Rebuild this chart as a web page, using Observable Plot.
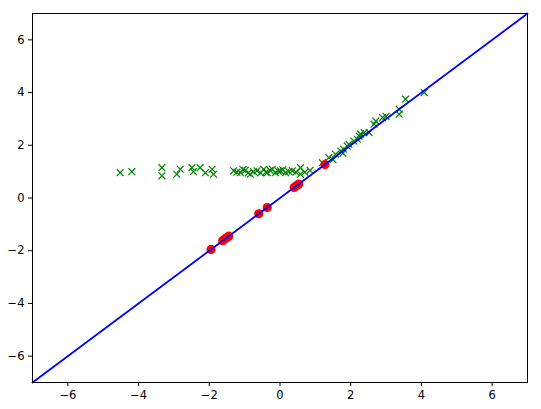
<!DOCTYPE html>
<html>
<head>
<meta charset="utf-8">
<script src="https://cdn.jsdelivr.net/npm/d3@7"></script>
<script src="https://cdn.jsdelivr.net/npm/@observablehq/plot@0.6"></script>
<style>
  html, body { margin: 0; padding: 0; background: #fff; }
  #chart svg { display: block; }
</style>
</head>
<body>
<div id="chart"></div>
<script>
// Green "x" samples
const greenX = [-4.52, -4.19, -3.34, -3.34, -2.92, -2.82, -2.49, -2.45, -2.26, -2.11, -1.92, -1.88,
  -1.31, -1.22, -1.12, -1.05, -0.98, -0.9, -0.84, -0.75, -0.65, -0.55, -0.46, -0.4, -0.36, -0.28, -0.22,
  -0.13, -0.05, 0.01, 0.08, 0.16, 0.25, 0.35, 0.45, 0.58, 0.58, 0.7, 0.85,
  1.2, 1.38, 1.5, 1.57, 1.72, 1.78, 1.8, 1.9, 1.95, 2.09, 2.19, 2.24, 2.28, 2.38, 2.52,
  2.66, 2.71, 2.9, 3.0, 3.37, 3.37, 3.55, 4.08];
const greenY = [0.96, 1.0, 1.15, 0.84, 0.9, 1.09, 1.15, 1.0, 1.15, 0.96, 1.09, 0.9,
  1.03, 0.98, 0.96, 1.08, 1.05, 0.95, 0.9, 1.0, 1.03, 0.95, 1.09, 0.98, 0.96, 1.05, 1.09,
  0.96, 1.02, 1.03, 1.07, 0.96, 1.0, 1.03, 0.98, 1.15, 0.9, 0.98, 1.05,
  1.34, 1.53, 1.45, 1.66, 1.78, 1.7, 1.85, 1.97, 2.04, 2.16, 2.23, 2.35, 2.43, 2.48, 2.48,
  2.8, 2.92, 3.05, 3.1, 3.37, 3.18, 3.75, 4.0];
// Red dots
const redX = [-1.95, -1.62, -1.55, -1.5, -1.45, -0.6, -0.36, 0.4, 0.47, 0.53, 1.27];
const redY = [-1.95, -1.62, -1.55, -1.5, -1.45, -0.6, -0.36, 0.4, 0.47, 0.53, 1.27];
// Identity line endpoints
const lineX = [-7, 7];
const lineY = [-7, 7];
const ticks = [-6, -4, -2, 0, 2, 4, 6];

const green = greenX.map((x, i) => ({x, y: greenY[i]}));
const red = redX.map((x, i) => ({x, y: redY[i]}));
const line = lineX.map((x, i) => ({x, y: lineY[i]}));
const fmt = d => (d < 0 ? "\u2212" + Math.abs(d) : String(d));

const chart = Plot.plot({
  width: 541,
  height: 409,
  marginLeft: 32,
  marginRight: 14,
  marginTop: 13,
  marginBottom: 27,
  style: {fontFamily: "DejaVu Sans", fontSize: "11.5px", color: "black", background: "white"},
  x: {domain: [-7, 7]},
  y: {domain: [-7, 7]},
  marks: [
    Plot.dot(green, {x: "x", y: "y", symbol: "times", r: 3.2, stroke: "green", strokeWidth: 1.2}),
    Plot.dot(red, {x: "x", y: "y", r: 4.6, fill: "red", stroke: "none"}),
    Plot.line(line, {x: "x", y: "y", stroke: "blue", strokeWidth: 1.8}),
    Plot.frame({stroke: "black", strokeWidth: 1}),
    Plot.axisX({ticks, tickFormat: fmt, tickSize: 4, tickPadding: 4, label: null, stroke: "black", color: "black"}),
    Plot.axisY({ticks, tickFormat: fmt, tickSize: 4, tickPadding: 4, label: null, stroke: "black", color: "black"})
  ]
});
document.getElementById("chart").appendChild(chart);
</script>
</body>
</html>
